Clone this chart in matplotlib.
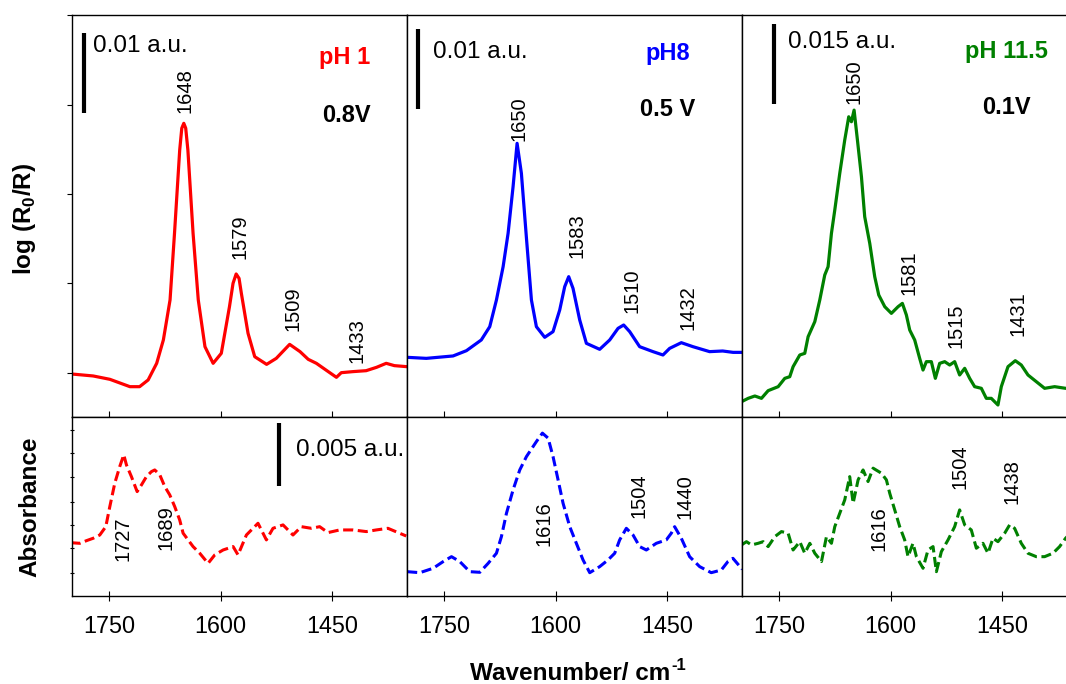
import matplotlib
matplotlib.use("Agg")
import matplotlib.pyplot as plt
import matplotlib.transforms as mtransforms

plt.rcParams['font.family'] = ['Liberation Sans', 'DejaVu Sans']
plt.rcParams['mathtext.fontset'] = 'custom'
plt.rcParams['mathtext.rm'] = 'Liberation Sans'
plt.rcParams['mathtext.bf'] = 'Liberation Sans:bold'

# ---------------- data (10^-3 a.u.) ----------------
red_top_wn = [1801, 1771.5, 1749, 1722, 1709, 1697.5, 1686, 1677, 1668, 1662, 1655, 1652.2, 1649.5, 1646.9,
              1644, 1637, 1630, 1621, 1610, 1599, 1588, 1583.2, 1579, 1575.1, 1572, 1563, 1554, 1538, 1525,
              1507, 1493, 1482, 1471, 1455, 1444, 1437.5, 1422, 1404, 1390, 1377, 1366, 1349]
red_top = [5.38, 5.13, 4.71, 3.79, 3.79, 4.63, 6.71, 9.63, 14.63, 22.96, 33.38, 36.1, 36.71, 36.1,
           33.38, 22.96, 14.63, 8.79, 6.71, 7.96, 13.79, 16.71, 17.88, 17.33, 15.46, 10.46, 7.54, 6.58, 7.33,
           9.08, 8.17, 7.21, 6.71, 5.67, 4.96, 5.54, 5.67, 5.79, 6.21, 6.71, 6.42, 6.29]

blue_top_wn = [1800, 1774, 1738, 1720, 1700, 1688.6, 1679.6, 1670.6, 1663.9, 1657.2, 1651.8, 1646, 1639,
               1632.5, 1625.8, 1614.6, 1603.4, 1594.4, 1587.7, 1582.3, 1576.5, 1567.5, 1558.5, 1540.6,
               1527.1, 1515.9, 1508.3, 1500.2, 1486.8, 1468.8, 1455.4, 1446.4, 1430.7, 1415, 1392.6, 1375,
               1361, 1349]
blue_top = [7.46, 7.33, 7.63, 8.29, 9.63, 11.29, 14.63, 18.79, 22.96, 28.79, 34.21, 30.46, 22.13,
            14.63, 11.29, 9.96, 10.67, 13.38, 16.29, 17.54, 16.08, 12.13, 9.21, 8.46,
            9.63, 11.08, 11.5, 10.67, 8.79, 8.17, 7.75, 8.58, 9.29, 8.79, 8.17, 8.25,
            8.08, 8.08]

green_top_wn = [1800.7, 1791.7, 1782.7, 1773.8, 1764.8, 1751.3, 1742.4, 1735.7, 1731.2, 1722.2,
                1715.5, 1711, 1702, 1695.3, 1688.6, 1684.1, 1679.6, 1675.1, 1668.4, 1661.7,
                1656.3, 1652.7, 1649.1, 1644.6, 1639.2, 1634.8, 1628, 1621.3, 1615.9, 1607.8,
                1598.9, 1589.9, 1584.1, 1578.7, 1574.2, 1567.5, 1560.8, 1556.3, 1551.8, 1545.1,
                1539.7, 1533.9, 1527.1, 1520.4, 1513.7, 1507, 1500.2, 1493.5, 1486.8, 1477.8,
                1471.1, 1464.4, 1455.4, 1450.9, 1441.9, 1432.1, 1424, 1415, 1403.8, 1392.6,
                1379.1, 1364.4, 1349]
green_top = [2.87, 3.5, 3.94, 3.5, 4.94, 5.69, 7.25, 7.56, 9.44, 11.63,
             11.94, 15.06, 17.88, 21.94, 26.63, 28.19, 34.44, 38.81, 45.69, 51.94,
             56.31, 55.38, 57.56, 51.94, 45.06, 37.56, 32.56, 26.31, 22.88, 20.69,
             19.44, 20.69, 21.31, 19.13, 16.31, 14.44, 11.0, 8.81, 10.38, 10.38,
             7.25, 10.06, 10.38, 9.75, 10.38, 7.88, 9.13, 7.25, 5.69, 5.38,
             3.5, 3.5, 2.25, 5.69, 9.44, 10.56, 9.75, 7.88, 6.63, 5.38,
             5.69, 5.38, 5.5]

red_bot_wn = [1802, 1789.5, 1780.5, 1771.5, 1762.6, 1754.5, 1749.1, 1742.4, 1735.7, 1730.3,
              1726.7, 1720, 1712.3, 1706.5, 1699.8, 1693, 1688.6, 1681.8, 1675.1, 1668.4,
              1661.7, 1655, 1650.4, 1643.7, 1637, 1628, 1616.8, 1607.8, 1596.6, 1583.1,
              1576.5, 1565.2, 1549.6, 1538.3, 1529.4, 1515.9, 1502.5, 1491.3, 1477.8, 1466.6,
              1455.4, 1439.7, 1421.7, 1403.8, 1390.4, 1374.7, 1359, 1350]
red_bot = [4.23, 4.18, 4.39, 4.58, 4.84, 5.50, 7.09, 8.95, 10.27, 11.20,
           10.40, 9.47, 8.28, 8.81, 9.47, 9.87, 10.0, 9.61, 8.68, 8.02,
           7.09, 6.03, 4.98, 4.45, 3.92, 3.39, 2.59, 3.26, 3.65, 3.92,
           3.26, 4.84, 5.77, 4.45, 5.37, 5.64, 4.84, 5.50, 5.37, 5.50,
           5.03, 5.24, 5.24, 5.11, 5.24, 5.37, 4.98, 4.76]

blue_bot_wn = [1799.8, 1782.7, 1764.8, 1751.3, 1740.1, 1728.9, 1715.5, 1702, 1690.8, 1679.6,
               1672.9, 1666.1, 1657.2, 1648.2, 1639.2, 1625.8, 1617.7, 1610, 1603.4, 1596.6,
               1589.9, 1580.9, 1572, 1563, 1554, 1540.6, 1529.4, 1520.4, 1513.7, 1504.7,
               1495.7, 1486.8, 1477.8, 1464.4, 1450.9, 1444.2, 1439.7, 1430.7, 1419.5, 1406,
               1390.4, 1376.9, 1368, 1361.2, 1348.7]
blue_bot = [1.93, 1.85, 2.20, 2.73, 3.12, 2.73, 1.93, 1.88, 2.59, 3.39,
            4.71, 6.56, 8.42, 10.0, 11.06, 12.25, 12.92, 12.52, 11.06, 9.21,
            7.36, 5.50, 4.18, 2.86, 1.85, 2.33, 2.86, 3.39, 4.45, 5.37,
            4.84, 3.92, 3.65, 4.18, 4.45, 4.98, 5.50, 4.58, 3.12, 2.33,
            1.85, 2.06, 2.73, 2.99, 2.12]

green_bot_wn = [1800.7, 1794, 1787.2, 1778.3, 1771.5, 1764.8, 1755.8, 1746.9, 1737.9, 1731.2,
                1722.2, 1715.5, 1708.7, 1702, 1693, 1686.3, 1679.6, 1675.1, 1668.4, 1661.7,
                1655, 1650.4, 1643.7, 1637, 1630.3, 1623.5, 1612.3, 1605.6, 1601.1, 1594.4,
                1587.7, 1581, 1576.5, 1569.8, 1565.2, 1556.3, 1549.6, 1542.8, 1538.3, 1531.6,
                1522.6, 1513.7, 1507, 1500.2, 1491.3, 1484.5, 1475.6, 1468.8, 1462.1, 1455.4,
                1446.4, 1439.7, 1433, 1424, 1415, 1403.8, 1392.6, 1381.4, 1372.4, 1364.4, 1349]
green_bot = [4.05, 4.31, 4.05, 4.18, 4.31, 3.92, 4.71, 5.11, 4.98, 3.65,
             4.31, 3.39, 4.18, 3.39, 2.73, 4.71, 4.18, 5.50, 6.56, 7.62,
             9.47, 7.36, 9.21, 10.0, 9.08, 10.14, 9.74, 9.21, 8.15, 6.83,
             5.50, 4.45, 3.12, 4.18, 3.12, 2.20, 3.65, 3.92, 1.93, 3.52,
             4.45, 5.50, 6.83, 5.64, 5.24, 3.79, 4.18, 3.39, 4.58, 4.31,
             4.98, 5.64, 5.37, 4.18, 3.39, 3.12, 3.12, 3.39, 3.92, 4.58, 5.5]

x_ticks = [1750, 1600, 1450]
ph_labels = ['pH 1', 'pH8', 'pH 11.5']
potential_labels = ['0.8V', '0.5 V', '0.1V']
scale_labels_top = ['0.01 a.u.', '0.01 a.u.', '0.015 a.u.']
scale_values_top = [10, 10, 15]
scale_label_bot = '0.005 a.u.'
scale_value_bot = 5
top_peaks = [['1648', '1579', '1509', '1433'],
             ['1650', '1583', '1510', '1432'],
             ['1650', '1581', '1515', '1431']]
bot_peaks = [['1727', '1689'],
             ['1616', '1504', '1440'],
             ['1616', '1504', '1438']]
colors = ['#ff0000', '#0000ff', '#008000']

# ---------------- layout ----------------
W, H = 1066, 684
fig = plt.figure(figsize=(W / 100, H / 100), dpi=100)

lefts = [72, 407, 742]
pw = 335
top_y0, top_y1 = 15, 417
bot_y0, bot_y1 = 417, 596

def fr(l, t, w, h):
    return [l / W, (H - t - h) / H, w / W, h / H]

ax_top = [fig.add_axes(fr(l, top_y0, pw, top_y1 - top_y0)) for l in lefts]
ax_bot = [fig.add_axes(fr(l, bot_y0, pw, bot_y1 - bot_y0)) for l in lefts]

top_ylims = [(0, 50.25), (0, 50.25), (0, 75.4)]
bot_ylim = (0, 14.2)
xlim = (1800, 1349)

top_series = [(red_top_wn, red_top), (blue_top_wn, blue_top), (green_top_wn, green_top)]
bot_series = [(red_bot_wn, red_bot), (blue_bot_wn, blue_bot), (green_bot_wn, green_bot)]

# text positions (axes fraction)
top_peak_pos = [[(0.337, 0.811), (0.501, 0.448), (0.660, 0.269), (0.851, 0.189)],
                [(0.334, 0.741), (0.507, 0.450), (0.672, 0.313), (0.839, 0.271)],
                [(0.334, 0.833), (0.499, 0.358), (0.639, 0.226), (0.824, 0.256)]]
bot_peak_pos = [[(0.152, 0.318), (0.281, 0.380)],
                [(0.409, 0.402), (0.693, 0.559), (0.830, 0.553)],
                [(0.409, 0.374), (0.651, 0.721), (0.806, 0.637)]]
ph_pos = [(0.815, 0.8955), (0.779, 0.905), (0.788, 0.908)]
pot_pos = [(0.818, 0.751), (0.779, 0.764), (0.788, 0.769)]
scale_txt_pos = [(0.0627, 0.923), (0.0776, 0.908), (0.137, 0.933)]
scale_bar_x = [0.036, 0.033, 0.096]      # axes fraction
scale_bar_bottom = [38.0, 38.5, 58.7]     # data units

for i in range(3):
    ax = ax_top[i]
    wn, y = top_series[i]
    ax.plot(wn, y, color=colors[i], lw=2.3, solid_joinstyle='round')
    ax.set_xlim(*xlim)
    ax.set_ylim(*top_ylims[i])
    ax.set_xticks(x_ticks)
    ax.tick_params(axis='x', direction='in', length=4.5, width=0.8, labelbottom=False)
    if i == 0:
        ax.set_yticks([5.5, 16.7, 27.9, 39.0, 50.2])
        ax.tick_params(axis='y', direction='out', length=3.5, width=0.8, labelleft=False)
    else:
        ax.set_yticks([])
    for txt, (px, py) in zip(top_peaks[i], top_peak_pos[i]):
        ax.text(px, py, txt, transform=ax.transAxes, rotation=90, ha='center', va='center',
                fontsize=14.5)
    ax.text(*ph_pos[i], ph_labels[i], transform=ax.transAxes, color=colors[i],
            fontsize=17, fontweight='bold', ha='center', va='center')
    ax.text(*pot_pos[i], potential_labels[i], transform=ax.transAxes, color='black',
            fontsize=17, fontweight='bold', ha='center', va='center')
    ax.text(*scale_txt_pos[i], scale_labels_top[i], transform=ax.transAxes,
            fontsize=17.5, ha='left', va='center')
    b = scale_bar_bottom[i]
    ax.plot([scale_bar_x[i]] * 2, [b, b + scale_values_top[i]], color='black', lw=3,
            transform=mtransforms.blended_transform_factory(ax.transAxes, ax.transData),
            solid_capstyle='butt')
    for s in ax.spines.values():
        s.set_linewidth(1.0)
    if i == 2:
        ax.spines['right'].set_visible(False)

for i in range(3):
    ax = ax_bot[i]
    wn, y = bot_series[i]
    ln, = ax.plot(wn, y, color=colors[i], lw=2.2, linestyle='--')
    ln.set_dashes([3.3, 1.5])
    ax.set_xlim(*xlim)
    ax.set_ylim(*bot_ylim)
    ax.set_xticks(x_ticks)
    ax.set_xticklabels([str(t) for t in x_ticks])
    ax.tick_params(axis='x', direction='inout', length=7, width=0.8, labelsize=16.8, pad=10)
    if i == 0:
        ax.set_yticks([1.83, 3.81, 5.63, 7.46, 9.44, 11.35, 13.17])
        ax.tick_params(axis='y', direction='inout', length=3, width=0.8, labelleft=False)
    else:
        ax.set_yticks([])
    for txt, (px, py) in zip(bot_peaks[i], bot_peak_pos[i]):
        ax.text(px, py, txt, transform=ax.transAxes, rotation=90, ha='center', va='center',
                fontsize=14.5)
    for s in ax.spines.values():
        s.set_linewidth(1.0)
    if i == 2:
        ax.spines['right'].set_visible(False)

# bottom scale bar
axb = ax_bot[0]
axb.plot([0.619] * 2, [8.73, 8.73 + scale_value_bot], color='black', lw=3,
         transform=mtransforms.blended_transform_factory(axb.transAxes, axb.transData),
         solid_capstyle='butt')
axb.text(0.669, 0.816, scale_label_bot, transform=axb.transAxes, fontsize=17.5,
         ha='left', va='center')

fig.text(25 / W, 1 - 219 / H, r'log (R$_\mathbf{0}$/R)', rotation=90, ha='center', va='center',
         fontsize=17.5, fontweight='bold')
fig.text(30 / W, 1 - 507 / H, 'Absorbance', rotation=90, ha='center', va='center',
         fontsize=17.5, fontweight='bold')
fig.text(670 / W, 1 - 680 / H, 'Wavenumber/ cm', ha='right', va='baseline',
         fontsize=17.5, fontweight='bold')
fig.text(671 / W, 1 - 670 / H, '-1', ha='left', va='baseline',
         fontsize=12, fontweight='bold')

fig.savefig('out.png', dpi=100)
